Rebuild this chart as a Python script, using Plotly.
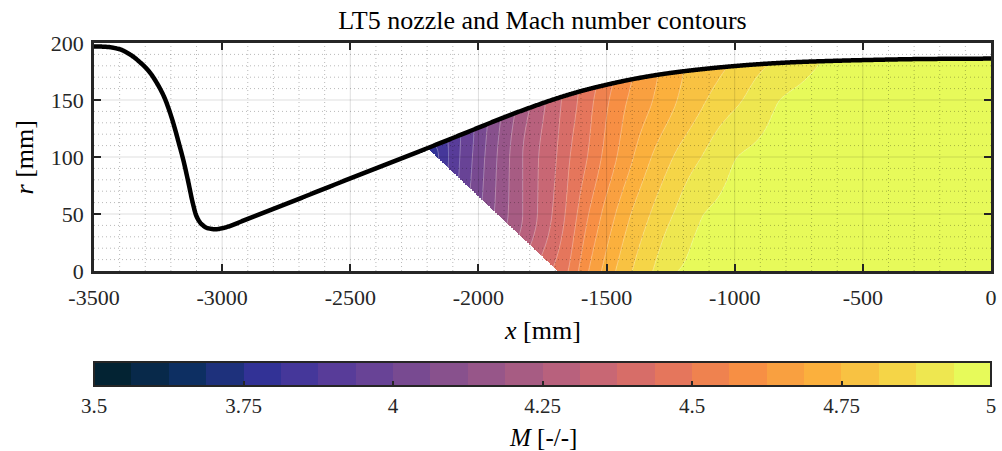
import numpy as np
import plotly.graph_objects as go
from plotly.colors import sample_colorscale

FONT = "Liberation Serif"
TXT = "#262626"

# ---------------- data ----------------
# nozzle wall contour [mm]
wall_x = [-3500, -3450, -3400, -3360, -3320, -3285, -3255, -3225, -3195, -3170,
          -3150, -3132, -3115, -3100, -3080, -3055, -3025, -3000, -2895, -2500,
          -2314, -2185, -1997, -1900, -1800, -1700, -1600, -1500, -1400, -1280,
          -1150, -999, -880, -764, -620, -499, -250, 0]
wall_r = [197.0, 196.6, 194.5, 190.0, 183.0, 175.0, 165.0, 152.0, 133.0, 113.0,
          96.0, 78.0, 60.0, 48.0, 41.0, 37.5, 36.6, 37.5, 46.2, 81.2,
          97.6, 109.0, 126.0, 134.8, 143.2, 151.0, 157.8, 163.4, 168.2, 172.8,
          176.5, 179.8, 181.8, 183.2, 184.3, 185.0, 186.0, 186.3]

# initial characteristic (lower-left edge of the Mach field)
kernel_x = [-1690, -2191]
kernel_r = [0, 106]

# Mach number along horizontal rows (r = const) and along the wall
row_r = [0, 50, 100, 150]
mach_row0_x = [-1900, -1800, -1690, -1650, -1610, -1570, -1520, -1465, -1400, -1320, -1222, -1000, -500, 0]
mach_row0 = [4.25, 4.36, 4.46, 4.5, 4.5625, 4.625, 4.6875, 4.75, 4.8125, 4.875, 4.9375, 4.96, 4.98, 4.99]
mach_row50_x = [-2100, -1926, -1800, -1700, -1615, -1570, -1520, -1465, -1405, -1330, -1240, -1120, -800, 0]
mach_row50 = [3.93, 4.14, 4.28, 4.39, 4.5, 4.5625, 4.625, 4.6875, 4.75, 4.8125, 4.875, 4.9375, 4.96, 4.985]
mach_row100_x = [-2163, -2100, -2000, -1900, -1800, -1700, -1640, -1575, -1520, -1460, -1395, -1325, -1240, -1130, -990, -600, 0]
mach_row100 = [3.80, 3.90, 4.03, 4.16, 4.28, 4.37, 4.44, 4.5, 4.5625, 4.625, 4.6875, 4.75, 4.8125, 4.875, 4.9375, 4.96, 4.985]
mach_row150_x = [-2000, -1900, -1800, -1720, -1550, -1490, -1420, -1320, -1225, -1110, -970, -824, -500, 0]
mach_row150 = [4.02, 4.14, 4.25, 4.33, 4.5, 4.5625, 4.625, 4.6875, 4.75, 4.8125, 4.875, 4.9375, 4.96, 4.985]
mach_wall_x = [-2200, -2100, -2000, -1900, -1800, -1700, -1610, -1540, -1475, -1400, -1300, -1200, -1030, -860, -660, -300, 0]
mach_wall = [3.77, 3.9, 4.02, 4.14, 4.25, 4.35, 4.4375, 4.5, 4.5625, 4.625, 4.6875, 4.75, 4.8125, 4.875, 4.9375, 4.965, 4.98]

# colour levels
m_min, m_max, n_levels = 3.5, 5.0, 24

# ticks
x_ticks = [-3500, -3000, -2500, -2000, -1500, -1000, -500, 0]
x_tick_labels = ["-3500", "-3000", "-2500", "-2000", "-1500", "-1000", "-500", "0"]
y_ticks = [0, 50, 100, 150, 200]
y_tick_labels = ["0", "50", "100", "150", "200"]
x_minor_step = 100
y_minor_step = 10
cb_ticks = [3.5, 3.75, 4.0, 4.25, 4.5, 4.75, 5.0]
cb_tick_labels = ["3.5", "3.75", "4", "4.25", "4.5", "4.75", "5"]


# ---------------- helpers ----------------
def pchip(xk, yk, xq):
    """Monotone piecewise cubic Hermite interpolation (clamped outside)."""
    xk = np.asarray(xk, float)
    yk = np.asarray(yk, float)
    xq = np.clip(np.asarray(xq, float), xk[0], xk[-1])
    n = len(xk)
    if n == 2:
        return np.interp(xq, xk, yk)
    h = np.diff(xk)
    d = np.diff(yk) / h
    m = np.zeros(n)
    for i in range(1, n - 1):
        if d[i - 1] * d[i] > 0:
            w1 = 2 * h[i] + h[i - 1]
            w2 = h[i] + 2 * h[i - 1]
            m[i] = (w1 + w2) / (w1 / d[i - 1] + w2 / d[i])

    def end(h0, h1, d0, d1):
        mm = ((2 * h0 + h1) * d0 - h0 * d1) / (h0 + h1)
        if np.sign(mm) != np.sign(d0):
            mm = 0.0
        elif np.sign(d0) != np.sign(d1) and abs(mm) > abs(3 * d0):
            mm = 3 * d0
        return mm

    m[0] = end(h[0], h[1], d[0], d[1])
    m[-1] = end(h[-1], h[-2], d[-1], d[-2])
    idx = np.clip(np.searchsorted(xk, xq) - 1, 0, n - 2)
    t = (xq - xk[idx]) / h[idx]
    h00 = 2 * t**3 - 3 * t**2 + 1
    h10 = t**3 - 2 * t**2 + t
    h01 = -2 * t**3 + 3 * t**2
    h11 = t**3 - t**2
    return h00 * yk[idx] + h10 * h[idx] * m[idx] + h01 * yk[idx + 1] + h11 * h[idx] * m[idx + 1]


# ---------------- build Mach field on a fine grid ----------------
rows_x = [mach_row0_x, mach_row50_x, mach_row100_x, mach_row150_x]
rows_m = [mach_row0, mach_row50, mach_row100, mach_row150]

dx, dr = 2.5, 0.6
xs = np.arange(-2215.0, 0.01, dx)
rs = np.arange(0.0, 190.0, dr)
Z = np.full((len(rs), len(xs)), np.nan)
Zfull = np.zeros((len(rs), len(xs)))
rw_all = pchip(wall_x, wall_r, xs)
row_vals = [pchip(rows_x[i], rows_m[i], xs) for i in range(len(row_r))]
wall_vals = pchip(mach_wall_x, mach_wall, xs)
k_slope = (kernel_x[1] - kernel_x[0]) / (kernel_r[1] - kernel_r[0])
xk = kernel_x[0] + k_slope * rs
for j, x in enumerate(xs):
    rw = rw_all[j]
    rr, mm = [], []
    for i, rv in enumerate(row_r):
        if rv < rw - 8:
            rr.append(rv)
            mm.append(row_vals[i][j])
    rr.append(rw)
    mm.append(wall_vals[j])
    col = pchip(rr, mm, rs)
    Zfull[:, j] = col
    mask = (rs <= rw + 0.5) & (x >= xk)
    Z[mask, j] = col[mask]
Z = np.clip(Z, m_min, m_max - 1e-4)
Zfull = np.clip(Zfull, m_min, m_max - 1e-4)

# dense wall curve
wx = np.linspace(wall_x[0], wall_x[-1], 1401)
wr = pchip(wall_x, wall_r, wx)

# stepped thermal colour scale (24 discrete levels)
cols = sample_colorscale("thermal", [k / (n_levels - 1) for k in range(n_levels)])
step_cs = []
for k, c in enumerate(cols):
    step_cs.append([k / n_levels, c])
    step_cs.append([(k + 1) / n_levels, c])
lvl = (m_max - m_min) / n_levels

fig = go.Figure()
fig.add_trace(go.Heatmap(
    x=xs, y=rs, z=Z, zmin=m_min, zmax=m_max, zsmooth=False,
    colorscale=step_cs, hoverinfo="skip",
    colorbar=dict(
        orientation="h", x=0.5, xanchor="center", y=-0.399, yanchor="top",
        len=1.0, lenmode="fraction", thickness=24, xpad=0, ypad=0,
        outlinewidth=2, outlinecolor=TXT,
        tickmode="array", tickvals=cb_ticks, ticktext=cb_tick_labels,
        ticks="inside", ticklen=6, tickwidth=2, tickcolor=TXT,
        tickfont=dict(family=FONT, size=21, color=TXT),
    ),
))
# faint light band borders (invisible over the white background)
fig.add_trace(go.Contour(
    x=xs, y=rs, z=Zfull, showscale=False, hoverinfo="skip",
    contours=dict(start=m_min + lvl, end=m_max - lvl, size=lvl, coloring="none"),
    line=dict(color="rgba(255,255,255,0.35)", width=1, smoothing=0),
))
fig.add_trace(go.Scatter(
    x=wx, y=wr, mode="lines", showlegend=False, hoverinfo="skip",
    line=dict(color="black", width=4.5, simplify=False),
))

# grid drawn above data (as in the reference)
shapes = []
x0, x1 = x_ticks[0], x_ticks[-1]
y0, y1 = y_ticks[0], y_ticks[-1]
for v in np.arange(x0 + x_minor_step, x1, x_minor_step):
    major = v in x_ticks
    shapes.append(dict(type="line", xref="x", yref="y", x0=v, x1=v, y0=y0, y1=y1, layer="above",
                       line=dict(color="rgba(0,0,0,0.13)" if major else "rgba(0,0,0,0.28)",
                                 width=1, dash="solid" if major else "1px,3px")))
for v in np.arange(y0 + y_minor_step, y1, y_minor_step):
    major = v in y_ticks
    shapes.append(dict(type="line", xref="x", yref="y", x0=x0, x1=x1, y0=v, y1=v, layer="above",
                       line=dict(color="rgba(0,0,0,0.13)" if major else "rgba(0,0,0,0.28)",
                                 width=1, dash="solid" if major else "1px,3px")))

axis_common = dict(
    ticks="inside", ticklen=7, tickwidth=2, tickcolor=TXT,
    showline=True, linewidth=2.5, linecolor=TXT, mirror="ticks",
    showgrid=False, zeroline=False, layer="above traces",
)

fig.update_layout(
    width=1002, height=451, autosize=False,
    margin=dict(l=94, r=5, t=43, b=180),
    paper_bgcolor="white", plot_bgcolor="white",
    showlegend=False,
    title=dict(text="LT5 nozzle and Mach number contours", x=0.5, xref="paper", xanchor="center",
               y=1 - 20 / 451, yref="container", yanchor="middle",
               font=dict(family=FONT, size=26, color="black")),
    xaxis=dict(range=[x0, x1], tickmode="array", tickvals=x_ticks, ticktext=x_tick_labels,
               ticklabelstandoff=5, tickfont=dict(family=FONT, size=22, color=TXT), **axis_common),
    yaxis=dict(range=[y0, y1], tickmode="array", tickvals=y_ticks, ticktext=y_tick_labels,
               ticklabelstandoff=3, tickfont=dict(family=FONT, size=22, color=TXT), **axis_common),
    shapes=shapes,
    annotations=[
        dict(text="<i>x</i> [mm]", xref="paper", yref="paper", x=0.5, y=-0.263, xanchor="center", yanchor="middle",
             showarrow=False, font=dict(family=FONT, size=26, color="black")),
        dict(text="<i>r</i> [mm]", xref="paper", yref="paper", x=-0.0775, y=0.5, xanchor="center", yanchor="middle",
             textangle=-90, showarrow=False, font=dict(family=FONT, size=26, color="black")),
        dict(text="<i>M</i> [-/-]", xref="paper", yref="paper", x=0.5, y=-0.732, xanchor="center", yanchor="middle",
             showarrow=False, font=dict(family=FONT, size=25, color="black")),
    ],
)

fig.write_html("out.html")
